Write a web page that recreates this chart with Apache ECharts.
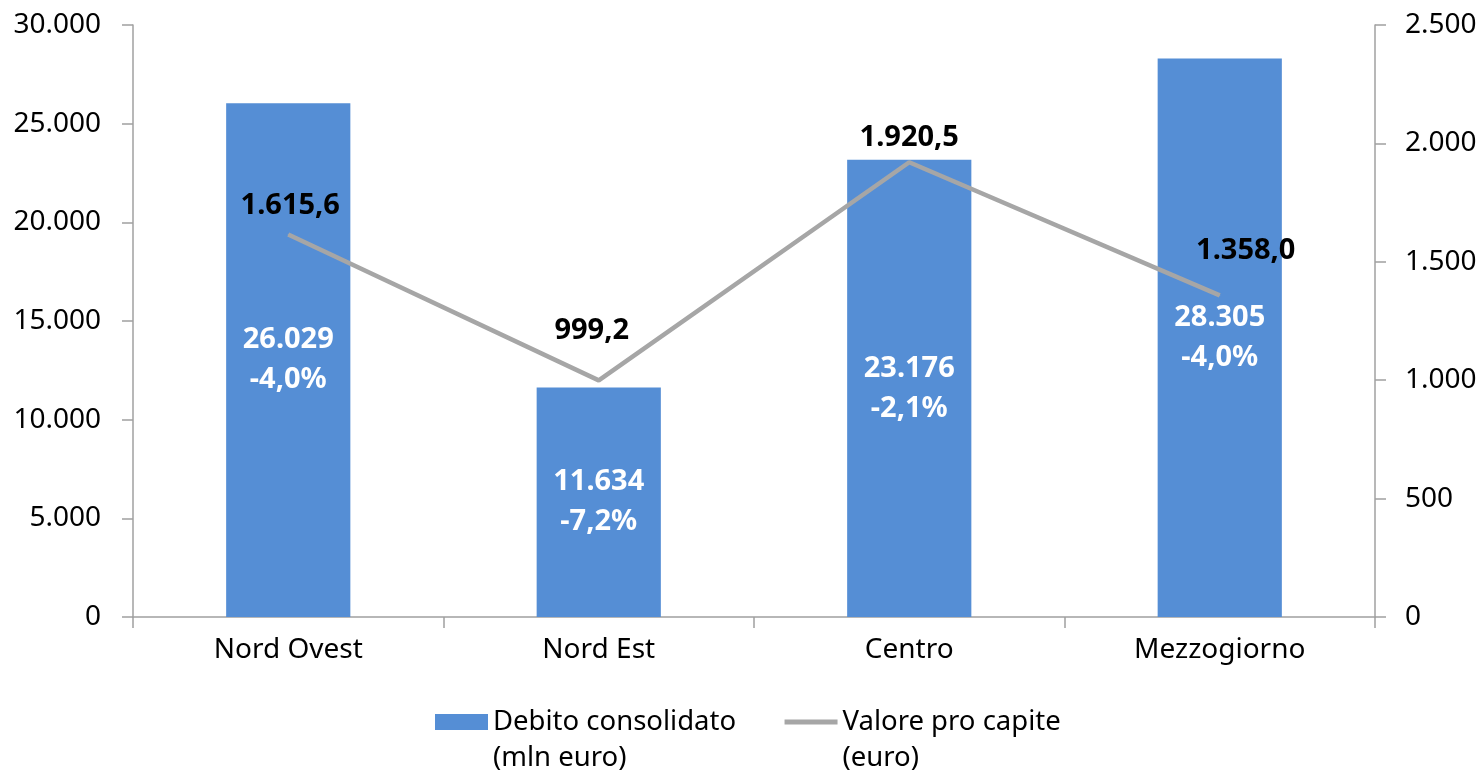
<!DOCTYPE html>
<html>
<head>
<meta charset="utf-8">
<script src="https://cdn.jsdelivr.net/npm/echarts@6/dist/echarts.min.js"></script>
<style>
  html, body { margin: 0; padding: 0; background: #fff; }
  #chart { width: 1481px; height: 774px; }
</style>
</head>
<body>
<div id="chart"></div>
<script>
// dati
const categories = ["Nord Ovest", "Nord Est", "Centro", "Mezzogiorno"];
const debitoValues = [26029, 11634, 23176, 28305]; // mln euro
const debitoVariazioni = [-4.0, -7.2, -2.1, -4.0]; // %
const proCapiteValues = [1615.6, 999.2, 1920.5, 1358.0]; // euro

// spostamento delle etichette della linea (solo stile)
const lineLabelOffsets = [[2, -9], [-7, -30], [0, -4], [26, -25]];

const FONT = "Noto Sans";
const AXIS_COLOR = "#A0A0A0";

// formato italiano: 1.234,5
function fmtIt(v, dec) {
  const s = Math.abs(v).toFixed(dec);
  const parts = s.split(".");
  const intPart = parts[0].replace(/\B(?=(\d{3})+(?!\d))/g, ".");
  return (v < 0 ? "-" : "") + intPart + (dec > 0 ? "," + parts[1] : "");
}

const chart = echarts.init(document.getElementById("chart"));

const axisLine = { show: true, lineStyle: { color: AXIS_COLOR, width: 1.5 } };
const axisTick = { show: true, length: 11, lineStyle: { color: AXIS_COLOR, width: 1.5 } };

const option = {
  animation: false,
  textStyle: { fontFamily: FONT },
  grid: {
    left: 133,
    right: 106,
    top: 25,
    bottom: 157,
    containLabel: false
  },
  legend: {
    left: 435,
    top: 668,
    padding: 0,
    itemWidth: 53,
    itemHeight: 16,
    itemGap: 46,
    // riga vuota davanti: così l'icona sta all'altezza della prima riga
    formatter: (name) => "\n" + name,
    textStyle: {
      fontSize: 27.5,
      color: "#000",
      lineHeight: 36
    },
    data: [
      { name: "Debito consolidato\n(mln euro)", icon: "rect" },
      {
        name: "Valore pro capite\n(euro)",
        itemStyle: { opacity: 0 },
        lineStyle: { width: 5, color: "#A6A6A6" }
      }
    ]
  },
  xAxis: {
    type: "category",
    data: categories,
    axisLine: axisLine,
    axisTick: axisTick,
    axisLabel: { color: "#000", fontSize: 28, margin: 19 }
  },
  yAxis: [
    {
      type: "value",
      min: 0,
      max: 30000,
      interval: 5000,
      axisLine: axisLine,
      axisTick: axisTick,
      splitLine: { show: false },
      axisLabel: {
        color: "#000",
        fontSize: 28,
        margin: 32,
        formatter: (v) => fmtIt(v, 0)
      }
    },
    {
      type: "value",
      min: 0,
      max: 2500,
      interval: 500,
      position: "right",
      axisLine: axisLine,
      axisTick: axisTick,
      splitLine: { show: false },
      axisLabel: {
        color: "#000",
        fontSize: 28,
        margin: 30,
        formatter: (v) => fmtIt(v, 0)
      }
    }
  ],
  series: [
    {
      name: "Debito consolidato\n(mln euro)",
      type: "bar",
      yAxisIndex: 0,
      barWidth: "40%",
      itemStyle: { color: "#558ED5" },
      label: {
        show: true,
        position: "inside",
        color: "#fff",
        fontSize: 29,
        fontWeight: "bold",
        lineHeight: 40,
        formatter: (p) =>
          fmtIt(p.value, 0) + "\n" + fmtIt(debitoVariazioni[p.dataIndex], 1) + "%"
      },
      data: debitoValues
    },
    {
      name: "Valore pro capite\n(euro)",
      type: "line",
      yAxisIndex: 1,
      symbol: "circle",
      symbolSize: 1,
      lineStyle: { color: "#A6A6A6", width: 4.5 },
      itemStyle: { color: "#A6A6A6" },
      label: {
        show: true,
        position: "top",
        distance: 5,
        color: "#000",
        fontSize: 29,
        fontWeight: "bold",
        formatter: (p) => fmtIt(p.value, 1)
      },
      data: proCapiteValues.map((v, i) => ({
        value: v,
        label: { offset: lineLabelOffsets[i] }
      }))
    }
  ]
};

chart.setOption(option);
</script>
</body>
</html>
